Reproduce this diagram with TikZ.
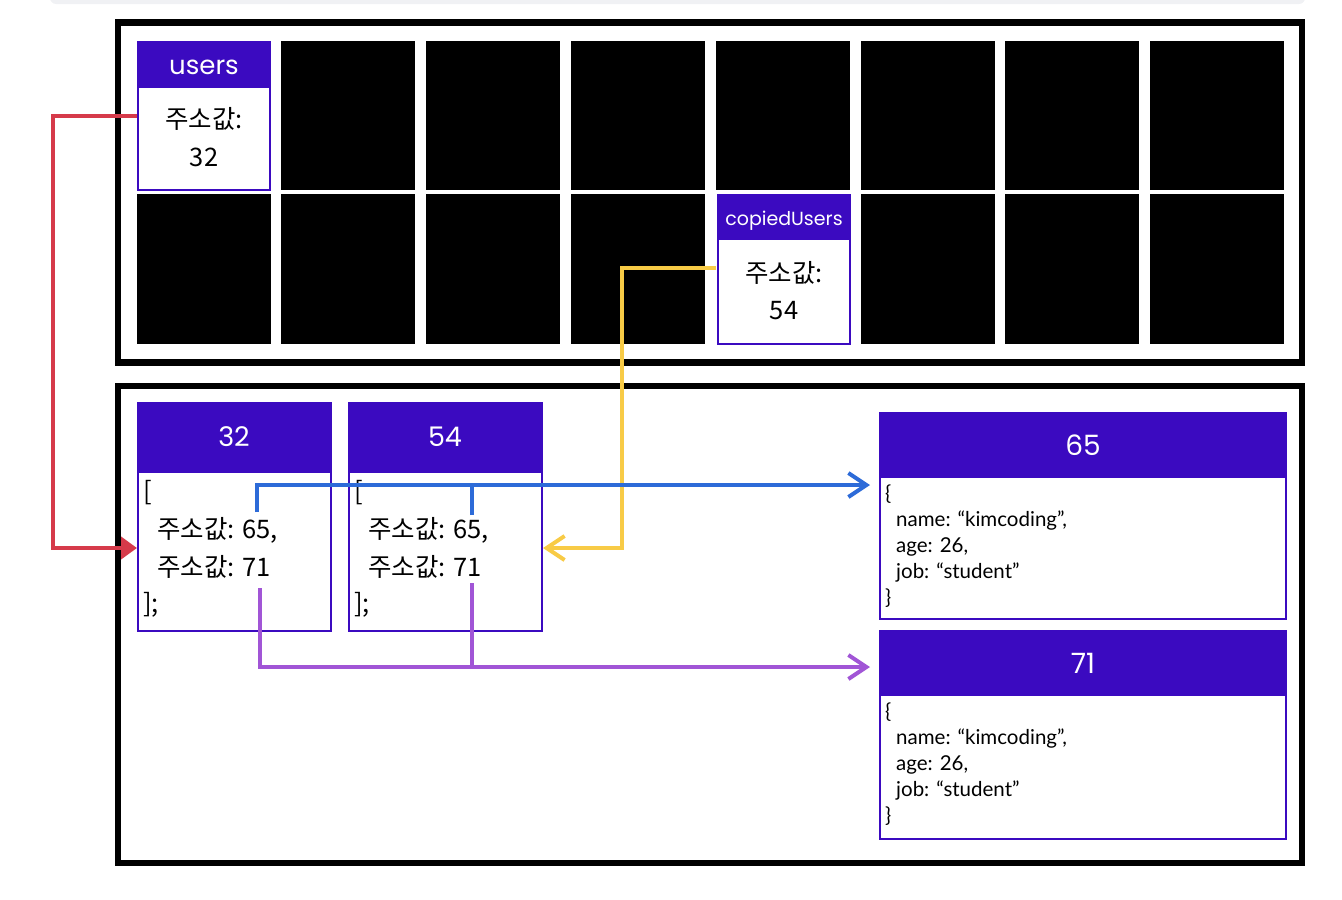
\documentclass[tikz,border=0pt]{standalone}
\usepackage{fontspec}
\setmainfont{Lato}
\newfontfamily\kr{Noto Sans CJK KR}
\newfontfamily\hd{Poppins}
\usetikzlibrary{arrows.meta,calc}
\definecolor{hdr}{RGB}{59,10,192}
\definecolor{redl}{RGB}{214,58,74}
\definecolor{yell}{RGB}{248,203,70}
\definecolor{bluel}{RGB}{45,107,216}
\definecolor{purl}{RGB}{161,85,214}
\definecolor{topbar}{RGB}{240,241,244}
\tikzset{
  frame/.style={draw=black,line width=6.5pt},
  blk/.style={fill=black,inner sep=0,minimum width=134pt},
  body/.style={draw=hdr,fill=white,line width=2pt,inner sep=0},
  head/.style={fill=hdr,inner sep=0,text=white,anchor=north},
  krt/.style={inner sep=0,font=\kr\fontsize{25.5}{28}\selectfont},
  codet/.style={inner sep=0,anchor=west,font=\kr\fontsize{25.5}{28}\selectfont},
  objt/.style={inner sep=0,anchor=west,font=\fontsize{20.5}{22}\selectfont},
  conn/.style={line width=4pt,line join=miter},
  barb/.style={-{Straight Barb[length=18pt,width=24pt]}},
}
\begin{document}
\begin{tikzpicture}[x=1pt,y=-1pt]
\useasboundingbox (0,0) rectangle (1342,900);
% top gray bar
\fill[topbar,rounded corners=6pt] (50,-10) rectangle (1305,4);
% frames
\node[frame,minimum width=1184pt,minimum height=340pt,inner sep=0] (mem1) at (710,192.5) {};
\node[frame,minimum width=1184pt,minimum height=477pt,inner sep=0] (mem2) at (710,624.5) {};
% top row black cells
\foreach \i/\x in {2/281,3/426,4/571,5/716,6/861,7/1005,8/1150}{
  \node[blk,minimum height=149pt,anchor=north west] (ra\i) at (\x,41) {};
}
% bottom row black cells
\foreach \i/\x in {1/137,2/281,3/426,4/571,6/861,7/1005,8/1150}{
  \node[blk,minimum height=150pt,anchor=north west] (rb\i) at (\x,194) {};
}
% users cell
\node[body,minimum width=132pt,minimum height=148pt] (users) at (204,116) {};
\node[head,minimum width=134pt,minimum height=47pt] (usersh) at (204,41) {};
\node[inner sep=0,text=white,font=\hd\fontsize{26}{28}\selectfont] (usersl) at (204,67) {users};
\node[krt] (usersa) at (204,119) {주소값:};
\node[krt] (usersv) at (204,157) {32};
% copiedUsers cell
\node[body,minimum width=132pt,minimum height=149pt] (cu) at (784,269.5) {};
\node[head,minimum width=134pt,minimum height=46pt] (cuh) at (784,194) {};
\node[inner sep=0,text=white,font=\hd\fontsize{19}{22}\selectfont] (cul) at (784,220.5) {copiedUsers};
\node[krt] (cua) at (784,273) {주소값:};
\node[krt] (cuv) at (784,311) {54};
% array 32
\node[body,minimum width=193pt,minimum height=228pt] (a32) at (234,516.5) {};
\node[head,minimum width=195pt,minimum height=71pt] (a32h) at (234,402) {};
\node[inner sep=0,text=white,font=\hd\fontsize{27}{30}\selectfont] (a32l) at (234,437) {32};
\node[codet] (a32a) at (143,493) {[};
\node[codet] (a32b) at (157,530) {주소값: 65,};
\node[codet] (a32c) at (157,567) {주소값: 71};
\node[codet] (a32d) at (143,605) {];};
% array 54
\node[body,minimum width=193pt,minimum height=228pt] (a54) at (445,516.5) {};
\node[head,minimum width=195pt,minimum height=71pt] (a54h) at (445,402) {};
\node[inner sep=0,text=white,font=\hd\fontsize{27}{30}\selectfont] (a54l) at (445,437) {54};
\node[codet] (a54a) at (354,493) {[};
\node[codet] (a54b) at (368,530) {주소값: 65,};
\node[codet] (a54c) at (368,567) {주소값: 71};
\node[codet] (a54d) at (354,605) {];};
% object 65
\node[body,minimum width=406pt,minimum height=206pt] (o65) at (1083,515.5) {};
\node[head,minimum width=408pt,minimum height=66pt] (o65h) at (1083,412) {};
\node[inner sep=0,text=white,font=\hd\fontsize{28}{30}\selectfont] (o65l) at (1083,445) {65};
\node[objt] (o65a) at (885,494) {\{};
\node[objt] (o65b) at (896,521) {name: “kimcoding”,};
\node[objt] (o65c) at (896,547) {age: 26,};
\node[objt] (o65d) at (896,573) {job: “student”};
\node[objt] (o65e) at (885,598) {\}};
% object 71
\node[body,minimum width=406pt,minimum height=208pt] (o71) at (1083,734.5) {};
\node[head,minimum width=408pt,minimum height=66pt] (o71h) at (1083,630) {};
\node[inner sep=0,text=white,font=\hd\fontsize{28}{30}\selectfont] (o71l) at (1083,663) {71};
\node[objt] (o71a) at (885,712) {\{};
\node[objt] (o71b) at (896,739) {name: “kimcoding”,};
\node[objt] (o71c) at (896,765) {age: 26,};
\node[objt] (o71d) at (896,791) {job: “student”};
\node[objt] (o71e) at (885,816) {\}};
% connector coordinates
\coordinate (rs) at (137,116);
\coordinate (re) at (137,548);
\coordinate (ys) at (716,268);
\coordinate (ye) at (543,548);
\coordinate (bs1) at (257,512);
\coordinate (bs2) at (472,515);
\coordinate (be) at (870,485);
\coordinate (ps1) at (260,588);
\coordinate (ps2) at (472,583);
\coordinate (pe) at (870,667);
% red
\draw[conn,redl,-{Triangle[length=16pt,width=22pt]}] (rs) -- (53,116) -- (53,548) -- (re);
% yellow
\draw[conn,yell,barb] (ys) -- (622,268) -- (622,548) -- (ye);
% blue
\draw[conn,bluel,barb] (bs1) -- (257,485) -- (be);
\draw[conn,bluel] (bs2) -- (472,485);
% purple
\draw[conn,purl,barb] (ps1) -- (260,667) -- (pe);
\draw[conn,purl] (ps2) -- (472,667);
\end{tikzpicture}
\end{document}
